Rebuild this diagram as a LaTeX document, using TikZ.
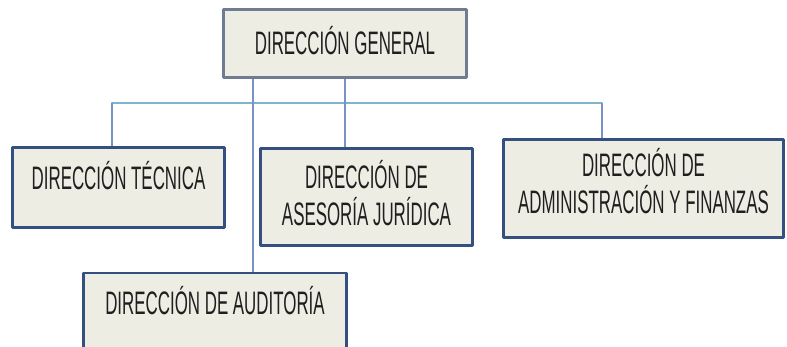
\documentclass[tikz,border=0pt]{standalone}
\usepackage{fontspec}
\setmainfont{Liberation Sans}[FakeStretch=0.52]
\usetikzlibrary{calc}
\definecolor{cajafondo}{RGB}{238,237,227}
\definecolor{cajaborde}{RGB}{52,80,128}
\definecolor{cajagris}{RGB}{112,124,146}
\definecolor{lineabus}{RGB}{128,180,202}
\definecolor{lineavert}{RGB}{120,146,200}
\begin{document}
\begin{tikzpicture}[x=1pt, y=-1pt, line join=round,
	caja/.style={draw=cajaborde, line width=2.6pt, fill=cajafondo, align=center,
		font=\fontsize{32.5}{37}\selectfont, text=black!88, inner sep=0pt},
	cajasup/.style={caja, draw=cajagris, line width=2.2pt},
	bus/.style={draw=lineabus, line width=2.8pt},
	rama/.style={draw=lineavert, line width=1.8pt}]
	\clip (0,0) rectangle (787,347);
	% cajas
	\node[cajasup, minimum width=243pt, minimum height=68pt, text depth=7pt] (gen) at (345,43.5) {DIRECCIÓN GENERAL};
	\node[caja, minimum width=212pt, minimum height=80pt, text depth=24pt] (tec) at (118.5,187.5) {DIRECCIÓN TÉCNICA};
	\node[caja, minimum width=212pt, minimum height=97pt, text depth=9pt] (ase) at (366.5,197) {DIRECCIÓN DE\\ASESORÍA JURÍDICA};
	\node[caja, minimum width=280pt, minimum height=98pt, text depth=15pt] (adm) at (643.5,188.5) {DIRECCIÓN DE\\ADMINISTRACIÓN Y FINANZAS};
	\node[caja, minimum width=263pt, minimum height=86pt, text depth=32pt] (aud) at (215,316) {DIRECCIÓN DE AUDITORÍA};
	% puntos de la red
	\coordinate (busizq) at (112,103);
	\coordinate (busder) at (602,103);
	\coordinate (bajaA) at (253,103);
	\coordinate (bajaB) at (345,103);
	% lineas
	\draw[bus] (tec.north -| busizq) -- (busizq) -- (busder) -- (adm.north -| busder);
	\draw[rama] (gen.south -| bajaA) -- (aud.north -| bajaA);
	\draw[rama] (gen.south -| bajaB) -- (ase.north -| bajaB);
	\draw[rama] (busizq) -- (tec.north -| busizq);
	\draw[rama] (busder) -- (adm.north -| busder);
\end{tikzpicture}
\end{document}
